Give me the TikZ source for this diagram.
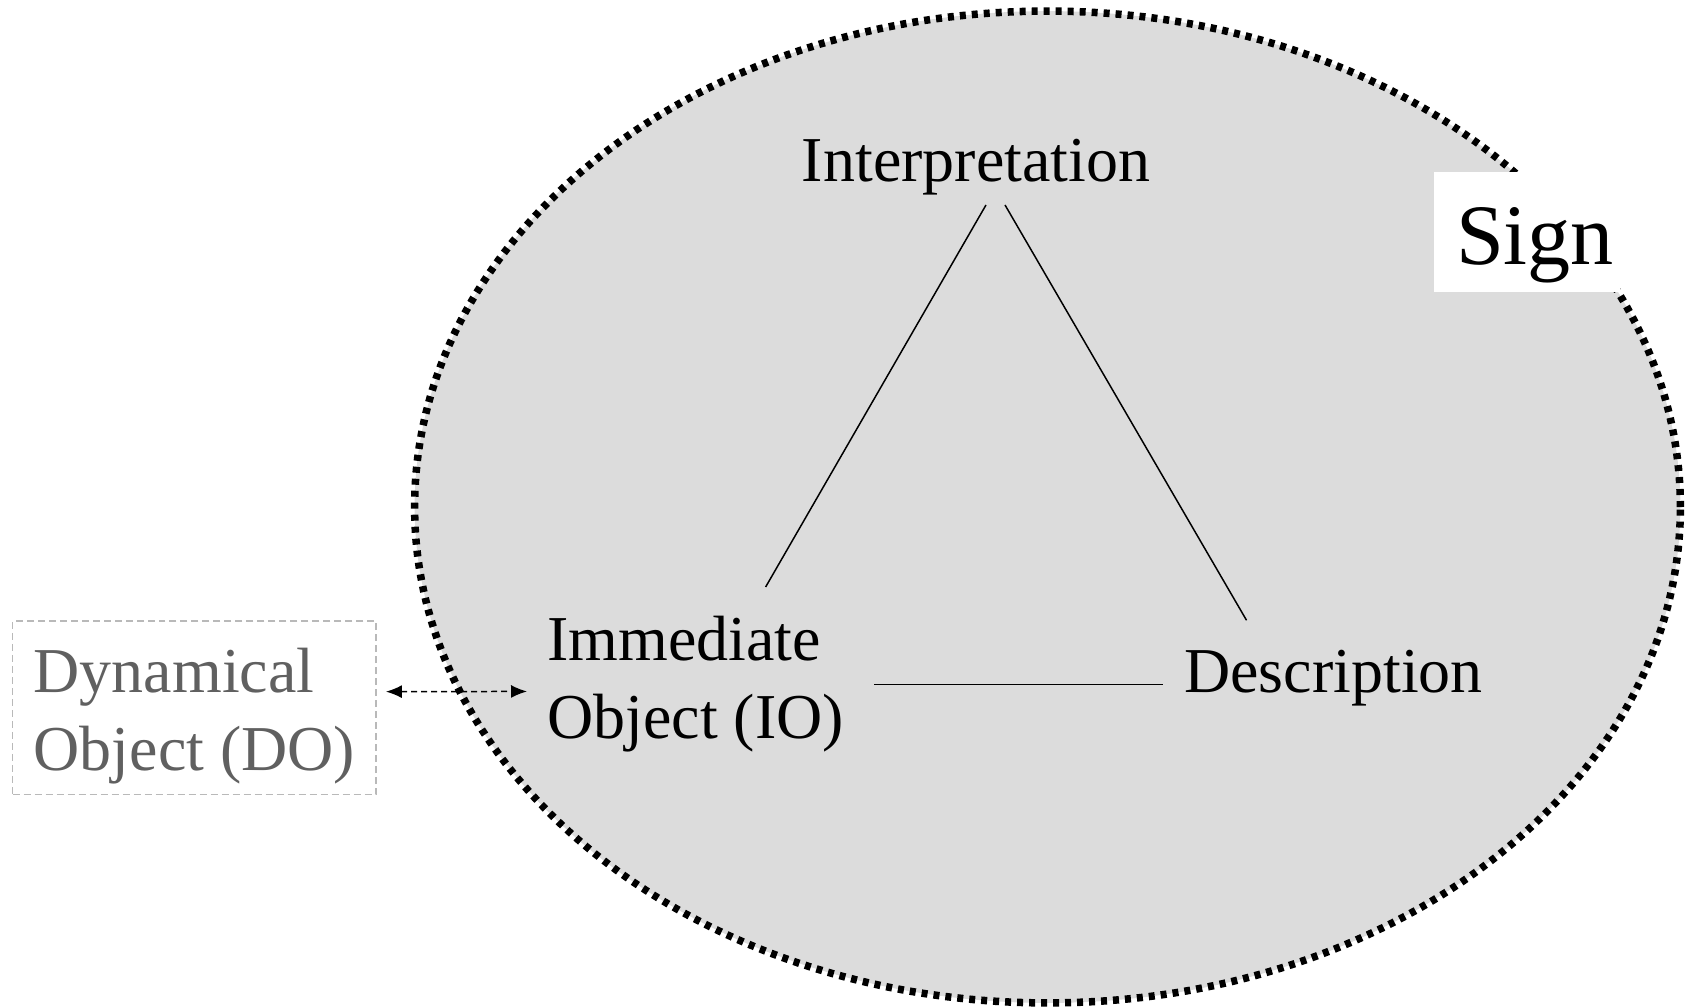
\documentclass[tikz,border=0pt]{standalone}
\usepackage{fontspec}
\setmainfont{Liberation Serif}
\usetikzlibrary{calc,arrows.meta}

\definecolor{signfill}{RGB}{220,220,220}
\definecolor{dogray}{RGB}{96,96,96}
\definecolor{doframe}{RGB}{185,185,185}

\begin{document}
\begin{tikzpicture}[x=0.02cm,y=-0.02cm]
\tikzset{lbl/.style={ %
		inner sep=0pt,
		font=\fontsize{36.4}{44.5}\selectfont %
	},
	side/.style={line width=0.85pt},
	link/.style={<->, >={Latex[length=0.32cm,width=0.26cm]}, line width=0.85pt,
		dash pattern=on 0.12cm off 0.08cm}
}
\useasboundingbox (0,0) rectangle (1688,1008);

% the sign
\draw[fill=signfill, line width=0.15cm, dash pattern=on 0.12cm off 0.12cm] (1047.5,507) ellipse (12.66cm and 9.92cm);
\node[fill=white, minimum width=3.62cm, minimum height=2.42cm, font=\fontsize{49}{58}\selectfont] (sign) at (1527,232) {\hspace{0.32cm}\raisebox{-0.66cm}[0pt][0pt]{Sign}};

\node[lbl, anchor=base] (interp) at (976,181) {Interpretation};
\node[lbl, anchor=north west, align=left] (io) at (547,616) {Immediate\\Object (IO)};
\node[lbl, anchor=base west] (desc) at (1184,692) {Description};

\node[lbl, anchor=north west, align=left, text=dogray, draw=doframe, line width=0.85pt,
	dash pattern=on 0.14cm off 0.08cm, inner xsep=0.42cm, inner ysep=0.2cm] (do) at (12,620)
	{\rule{0pt}{1.24cm}Dynamical\\Object (DO)};

\draw[side] ([shift={(10,10)}]interp.south) -- ([shift={(70,-29)}]io.north);
\draw[side] ([shift={(29,10)}]interp.south) -- ([shift={(-87,-29)}]desc.north);
\draw[side] ([xshift=0.6cm]io.east) -- ([xshift=-0.42cm]io.east -| desc.west);

\draw[link] ([shift={(9,-16)}]do.east) -- ([shift={(-20,7)}]io.west);

\end{tikzpicture}
\end{document}
